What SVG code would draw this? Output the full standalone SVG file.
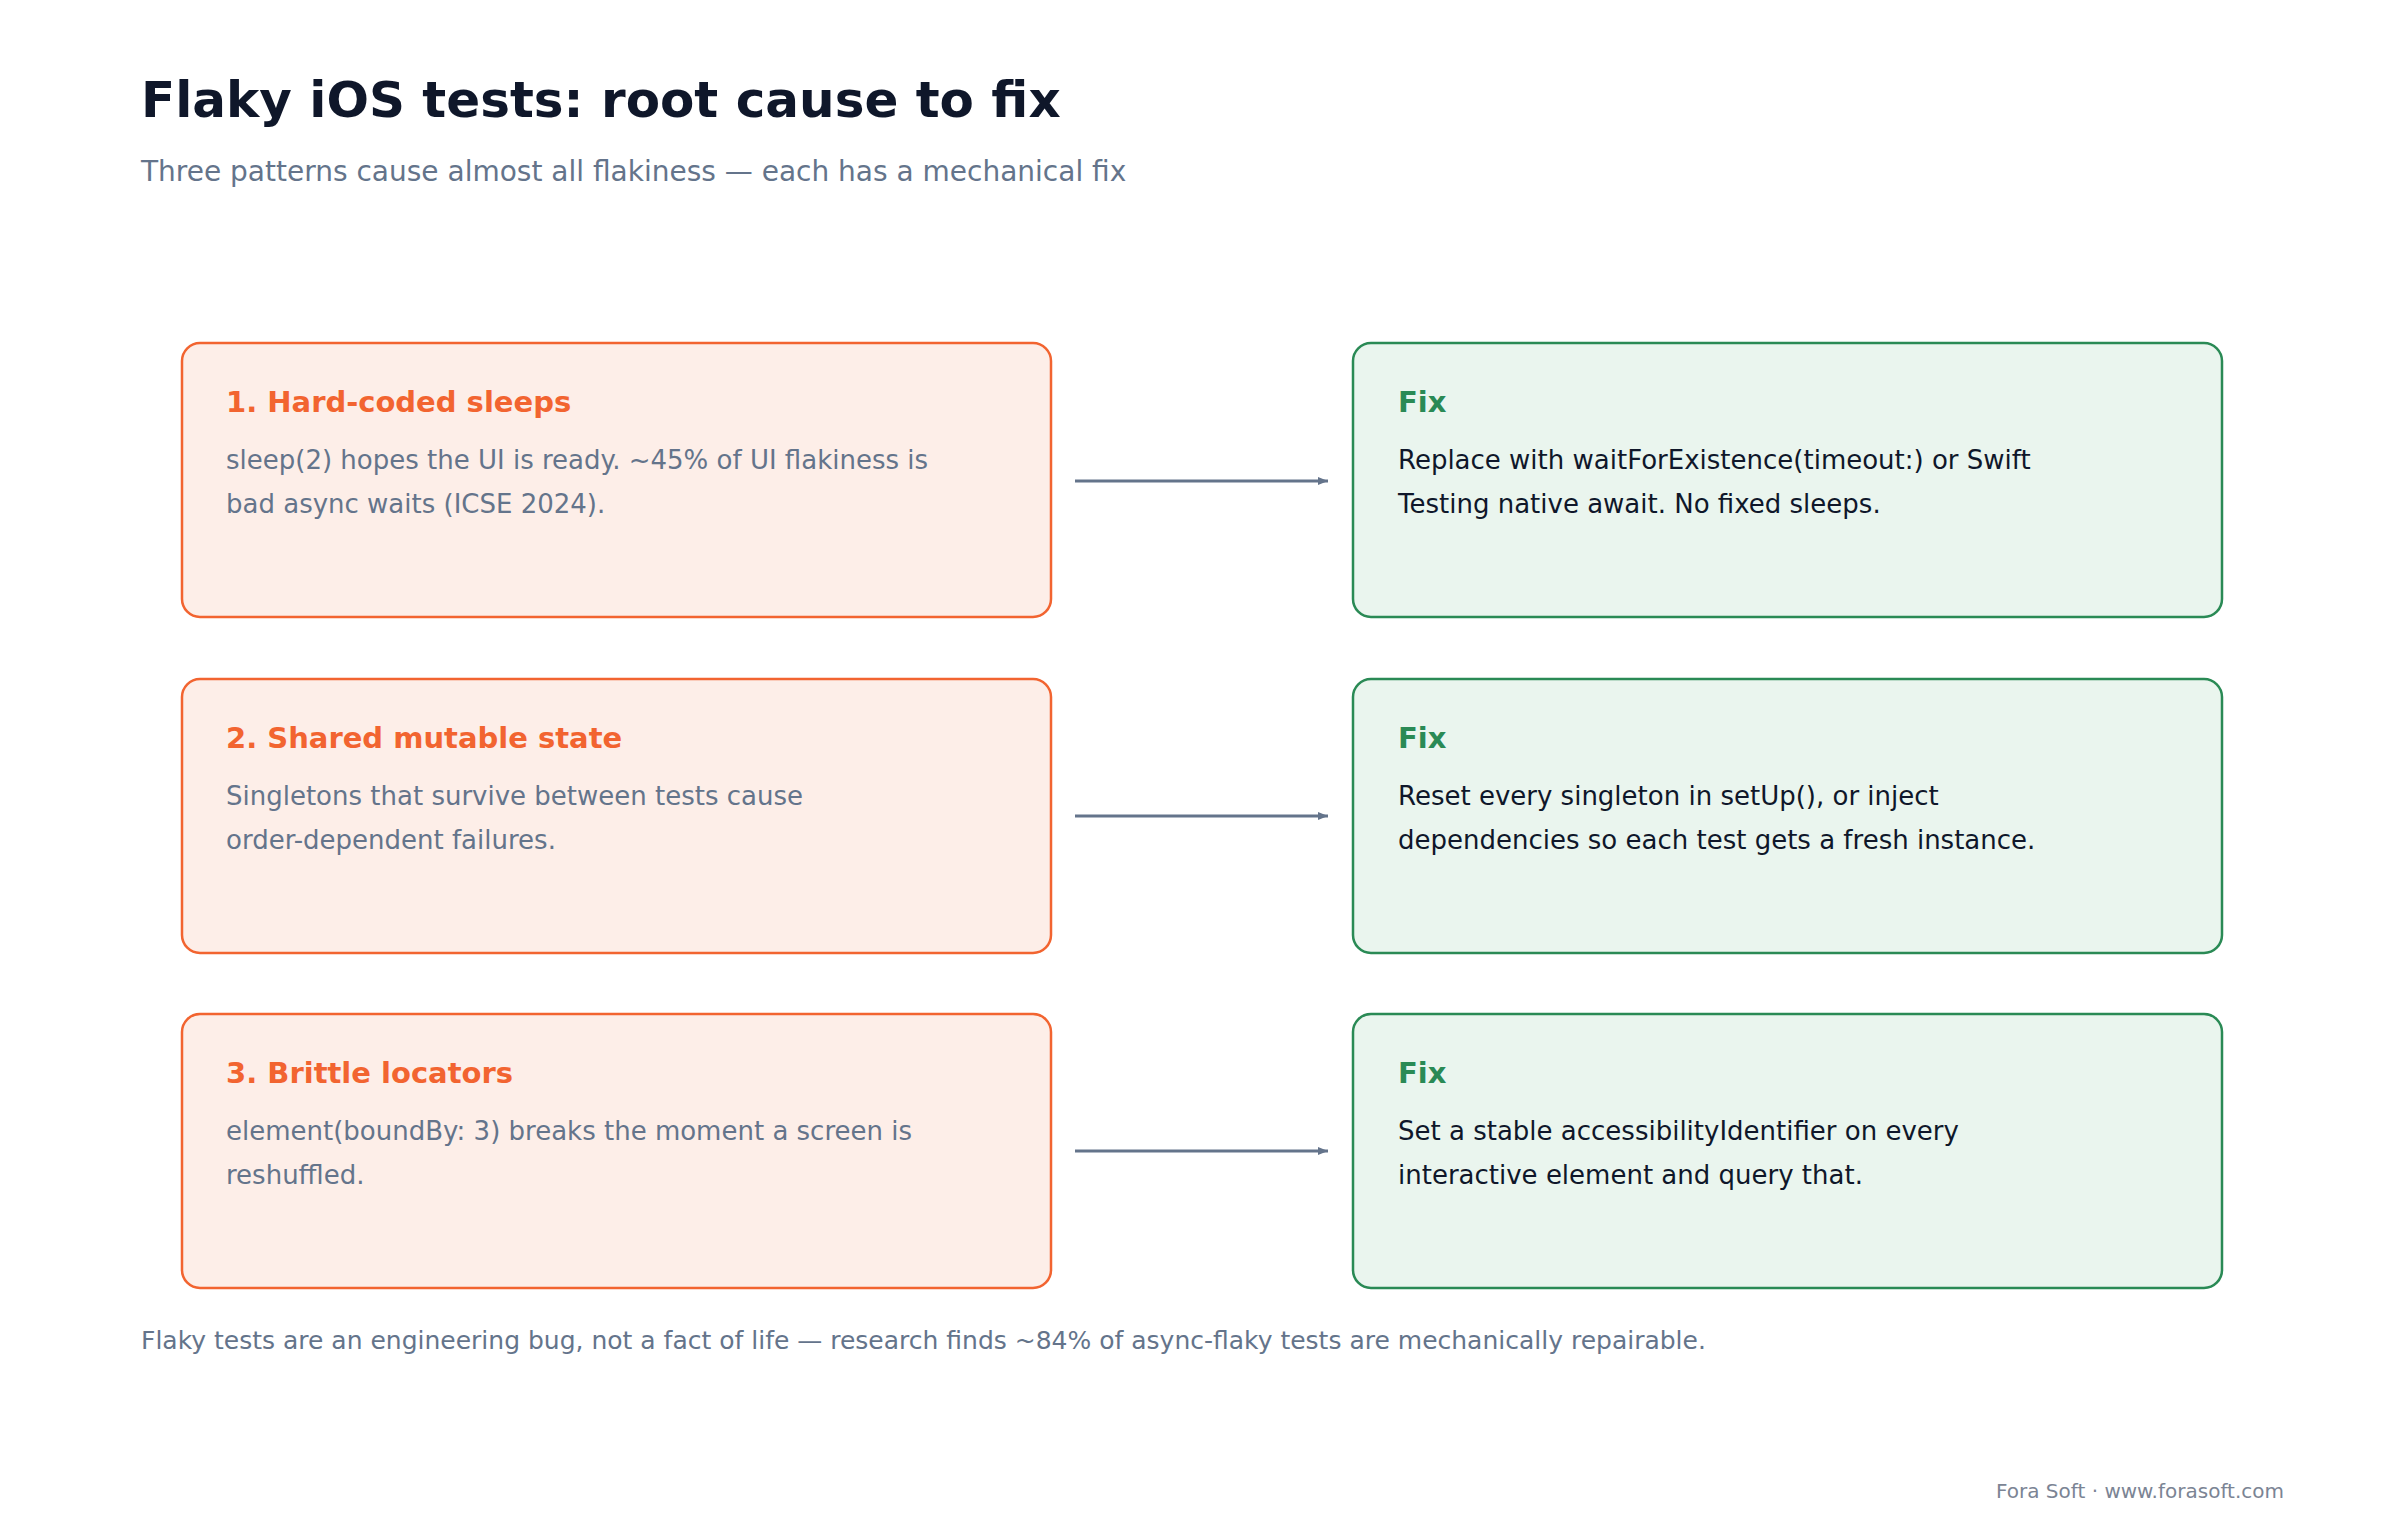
<svg xmlns="http://www.w3.org/2000/svg" width="2400" height="1520" viewBox="0 0 2400 1520">
<defs>
<style>
text{font-family:"DejaVu Sans","Noto Sans",sans-serif}
.title{font-size:50px;font-weight:bold;fill:#0f172a}
.sub{font-size:28px;fill:#64748b}
.prob rect{fill:#fdeee8;stroke:#f26430;stroke-width:2.5}
.fix rect{fill:#eaf5ee;stroke:#2a8a55;stroke-width:2.5}
.ph{font-size:29px;font-weight:bold;fill:#f26430}
.fh{font-size:29px;font-weight:bold;fill:#2a8a55}
.pb{font-size:26px;fill:#64748b}
.fb{font-size:26px;fill:#0f172a}
.conn line{stroke:#64748b;stroke-width:3}
.foot{font-size:25px;fill:#64748b}
.credit{font-size:20px;fill:#7b8494}
</style>
<marker id="ah" markerWidth="10" markerHeight="8" refX="10" refY="4" orient="auto" markerUnits="userSpaceOnUse" viewBox="0 0 10 8">
<path d="M0,0 L10,4 L0,8 Z" fill="#64748b"/>
</marker>
</defs>
<rect width="2400" height="1520" fill="#ffffff"/>
<text class="title" x="141" y="117">Flaky iOS tests: root cause to fix</text>
<text class="sub" x="141" y="181">Three patterns cause almost all flakiness — each has a mechanical fix</text>

<g id="p1" class="prob"><rect x="182" y="343" width="869" height="274" rx="18"/>
<text class="ph" x="226" y="412">1. Hard-coded sleeps</text>
<text class="pb" x="226" y="469">sleep(2) hopes the UI is ready. ~45% of UI flakiness is</text>
<text class="pb" x="226" y="513">bad async waits (ICSE 2024).</text></g>
<g id="f1" class="fix"><rect x="1353" y="343" width="869" height="274" rx="18"/>
<text class="fh" x="1398" y="412">Fix</text>
<text class="fb" x="1398" y="469">Replace with waitForExistence(timeout:) or Swift</text>
<text class="fb" x="1398" y="513">Testing native await. No fixed sleeps.</text></g>

<g id="p2" class="prob"><rect x="182" y="679" width="869" height="274" rx="18"/>
<text class="ph" x="226" y="748">2. Shared mutable state</text>
<text class="pb" x="226" y="805">Singletons that survive between tests cause</text>
<text class="pb" x="226" y="849">order-dependent failures.</text></g>
<g id="f2" class="fix"><rect x="1353" y="679" width="869" height="274" rx="18"/>
<text class="fh" x="1398" y="748">Fix</text>
<text class="fb" x="1398" y="805">Reset every singleton in setUp(), or inject</text>
<text class="fb" x="1398" y="849">dependencies so each test gets a fresh instance.</text></g>

<g id="p3" class="prob"><rect x="182" y="1014" width="869" height="274" rx="18"/>
<text class="ph" x="226" y="1083">3. Brittle locators</text>
<text class="pb" x="226" y="1140">element(boundBy: 3) breaks the moment a screen is</text>
<text class="pb" x="226" y="1184">reshuffled.</text></g>
<g id="f3" class="fix"><rect x="1353" y="1014" width="869" height="274" rx="18"/>
<text class="fh" x="1398" y="1083">Fix</text>
<text class="fb" x="1398" y="1140">Set a stable accessibilityIdentifier on every</text>
<text class="fb" x="1398" y="1184">interactive element and query that.</text></g>

<g id="connectors" class="conn">
<line x1="1075" y1="481" x2="1328" y2="481" marker-end="url(#ah)"/>
<line x1="1075" y1="816" x2="1328" y2="816" marker-end="url(#ah)"/>
<line x1="1075" y1="1151" x2="1328" y2="1151" marker-end="url(#ah)"/>
</g>
<g id="markers-fix"/>
<text class="foot" x="141" y="1349">Flaky tests are an engineering bug, not a fact of life — research finds ~84% of async-flaky tests are mechanically repairable.</text>
<text class="credit" x="2284" y="1498" text-anchor="end">Fora Soft · www.forasoft.com</text>
</svg>
